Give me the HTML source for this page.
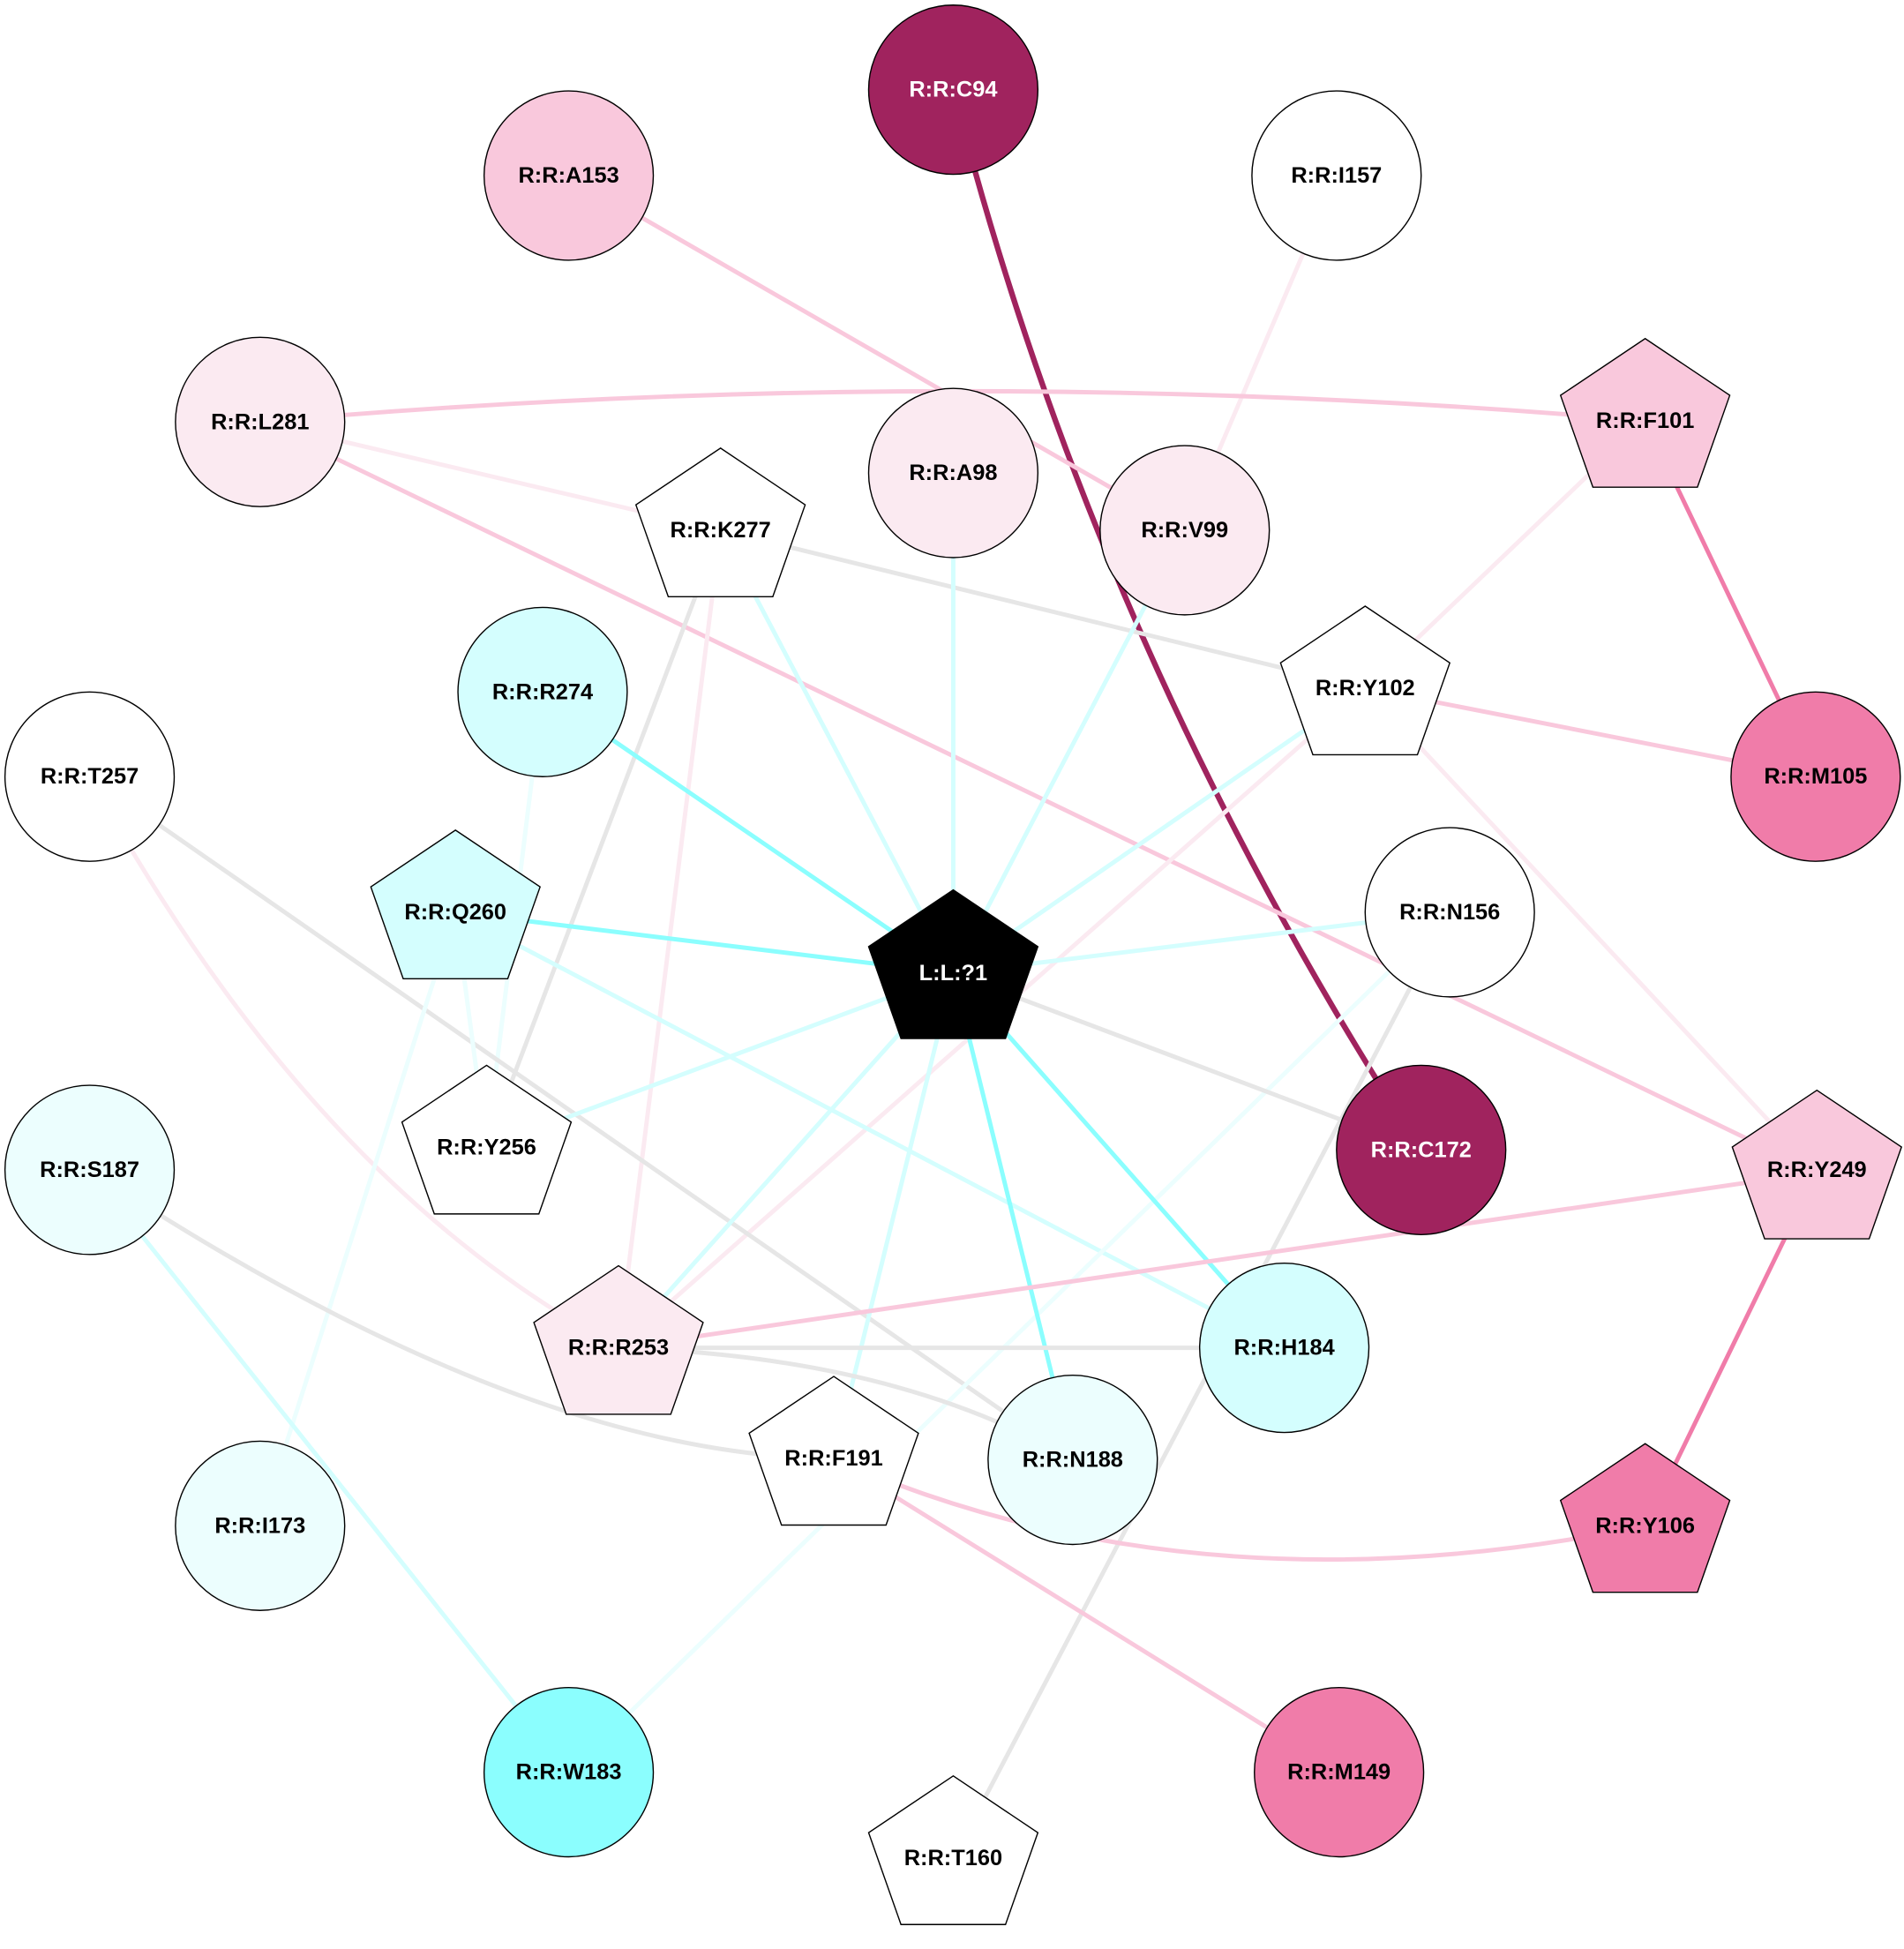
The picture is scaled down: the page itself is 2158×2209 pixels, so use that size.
<!DOCTYPE html>
<html><head><meta charset="utf-8"><style>html,body{margin:0;padding:0;background:#fff}svg{display:block}text{font-family:"Liberation Sans",Arial,sans-serif;font-weight:bold;font-size:18px;text-anchor:middle;dominant-baseline:central}</style></head>
<body>
<svg width="2158" height="2209" viewBox="0 0 1530 1566" xmlns="http://www.w3.org/2000/svg">
<defs>
<polygon id="pg" points="0,-66 68,-20.4 42,53.4 -42,53.4 -68,-20.4" stroke="#000" stroke-width="1"/>
</defs>
<g fill="none" stroke-width="3.5">
<path d="M766,72 Q880,520 1142,924" stroke="#a0235e" stroke-width="4.5"/>
<line x1="457" y1="141" x2="952" y2="426" stroke="#f9c8dc"/>
<line x1="1074" y1="141" x2="952" y2="426" stroke="#fbeaf1"/>
<path d="M209,339 Q766,290 1322,338" stroke="#f9c8dc"/>
<line x1="209" y1="339" x2="579" y2="426" stroke="#fbeaf1"/>
<line x1="209" y1="339" x2="1460" y2="942" stroke="#f9c8dc"/>
<line x1="1322" y1="338" x2="1459" y2="624" stroke="#f07ca9"/>
<line x1="1322" y1="338" x2="1097" y2="553" stroke="#fbeaf1"/>
<line x1="579" y1="426" x2="1097" y2="553" stroke="#e6e6e6"/>
<line x1="579" y1="426" x2="391" y2="922" stroke="#e6e6e6"/>
<line x1="579" y1="426" x2="497" y2="1083" stroke="#fbeaf1"/>
<line x1="579" y1="426" x2="766" y2="782" stroke="#d4fefe"/>
<line x1="766" y1="380" x2="766" y2="782" stroke="#d4fefe"/>
<line x1="952" y1="426" x2="766" y2="782" stroke="#d4fefe"/>
<line x1="436" y1="556" x2="766" y2="782" stroke="#8bfefe"/>
<line x1="436" y1="556" x2="391" y2="922" stroke="#ecfefe"/>
<line x1="1097" y1="553" x2="766" y2="782" stroke="#d4fefe"/>
<line x1="1097" y1="553" x2="1459" y2="624" stroke="#f9c8dc"/>
<line x1="1097" y1="553" x2="497" y2="1083" stroke="#fbeaf1"/>
<line x1="1097" y1="553" x2="1460" y2="942" stroke="#fbeaf1"/>
<line x1="72" y1="624" x2="862" y2="1173" stroke="#e6e6e6"/>
<path d="M72,624 Q250,950 497,1083" stroke="#fbeaf1"/>
<line x1="366" y1="733" x2="766" y2="782" stroke="#8bfefe"/>
<line x1="366" y1="733" x2="1032" y2="1083" stroke="#d4fefe"/>
<line x1="366" y1="733" x2="391" y2="922" stroke="#ecfefe"/>
<line x1="366" y1="733" x2="209" y2="1226" stroke="#ecfefe"/>
<line x1="1165" y1="733" x2="766" y2="782" stroke="#d4fefe"/>
<line x1="1165" y1="733" x2="457" y2="1424" stroke="#ecfefe"/>
<line x1="1165" y1="733" x2="766" y2="1493" stroke="#e6e6e6"/>
<line x1="766" y1="782" x2="1142" y2="924" stroke="#e6e6e6"/>
<line x1="766" y1="782" x2="391" y2="922" stroke="#d4fefe"/>
<line x1="766" y1="782" x2="497" y2="1083" stroke="#d4fefe"/>
<line x1="766" y1="782" x2="670" y2="1172" stroke="#d4fefe"/>
<line x1="766" y1="782" x2="862" y2="1173" stroke="#8bfefe"/>
<line x1="766" y1="782" x2="1032" y2="1083" stroke="#8bfefe"/>
<path d="M72,940 Q420,1170 670,1172" stroke="#e6e6e6"/>
<line x1="72" y1="940" x2="457" y2="1424" stroke="#d4fefe"/>
<line x1="1460" y1="942" x2="497" y2="1083" stroke="#f9c8dc"/>
<line x1="1460" y1="942" x2="1322" y2="1226" stroke="#f07ca9"/>
<line x1="497" y1="1083" x2="1032" y2="1083" stroke="#e6e6e6"/>
<path d="M497,1083 Q720,1090 862,1173" stroke="#e6e6e6"/>
<path d="M670,1172 Q960,1300 1322,1226" stroke="#f9c8dc"/>
<line x1="670" y1="1172" x2="1076" y2="1424" stroke="#f9c8dc"/>
</g>
<g stroke="#000" stroke-width="1">
<circle cx="766" cy="72" r="68" fill="#a0235e"/>
<circle cx="457" cy="141" r="68" fill="#f9c8dc"/>
<circle cx="1074" cy="141" r="68" fill="#fff"/>
<circle cx="209" cy="339" r="68" fill="#fbeaf1"/>
<circle cx="766" cy="380" r="68" fill="#fbeaf1"/>
<circle cx="952" cy="426" r="68" fill="#fbeaf1"/>
<circle cx="436" cy="556" r="68" fill="#d4fefe"/>
<circle cx="72" cy="624" r="68" fill="#fff"/>
<circle cx="1459" cy="624" r="68" fill="#f07ca9"/>
<circle cx="1165" cy="733" r="68" fill="#fff"/>
<circle cx="72" cy="940" r="68" fill="#ecfefe"/>
<circle cx="1142" cy="924" r="68" fill="#a0235e"/>
<circle cx="1032" cy="1083" r="68" fill="#d4fefe"/>
<circle cx="862" cy="1173" r="68" fill="#ecfefe"/>
<circle cx="209" cy="1226" r="68" fill="#ecfefe"/>
<circle cx="457" cy="1424" r="68" fill="#8bfefe"/>
<circle cx="1076" cy="1424" r="68" fill="#f07ca9"/>
</g>
<use href="#pg" x="1322" y="338" fill="#f9c8dc"/>
<use href="#pg" x="579" y="426" fill="#fff"/>
<use href="#pg" x="1097" y="553" fill="#fff"/>
<use href="#pg" x="366" y="733" fill="#d4fefe"/>
<use href="#pg" x="766" y="781" fill="#000"/>
<use href="#pg" x="391" y="922" fill="#fff"/>
<use href="#pg" x="1460" y="942" fill="#f9c8dc"/>
<use href="#pg" x="497" y="1083" fill="#fbeaf1"/>
<use href="#pg" x="670" y="1172" fill="#fff"/>
<use href="#pg" x="1322" y="1226" fill="#f07ca9"/>
<use href="#pg" x="766" y="1493" fill="#fff"/>
<g fill="#000">
<text x="766" y="72" fill="#fff">R:R:C94</text>
<text x="457" y="141">R:R:A153</text>
<text x="1074" y="141">R:R:I157</text>
<text x="209" y="339">R:R:L281</text>
<text x="1322" y="338">R:R:F101</text>
<text x="766" y="380">R:R:A98</text>
<text x="952" y="426">R:R:V99</text>
<text x="579" y="426">R:R:K277</text>
<text x="436" y="556">R:R:R274</text>
<text x="1097" y="553">R:R:Y102</text>
<text x="72" y="624">R:R:T257</text>
<text x="1459" y="624">R:R:M105</text>
<text x="366" y="733">R:R:Q260</text>
<text x="1165" y="733">R:R:N156</text>
<text x="766" y="782" fill="#fff">L:L:?1</text>
<text x="391" y="922">R:R:Y256</text>
<text x="72" y="940">R:R:S187</text>
<text x="1142" y="924" fill="#fff">R:R:C172</text>
<text x="1460" y="940">R:R:Y249</text>
<text x="497" y="1083">R:R:R253</text>
<text x="1032" y="1083">R:R:H184</text>
<text x="862" y="1173">R:R:N188</text>
<text x="670" y="1172">R:R:F191</text>
<text x="1322" y="1226">R:R:Y106</text>
<text x="209" y="1226">R:R:I173</text>
<text x="457" y="1424">R:R:W183</text>
<text x="1076" y="1424">R:R:M149</text>
<text x="766" y="1493">R:R:T160</text>
</g>
</svg>
</body></html>
